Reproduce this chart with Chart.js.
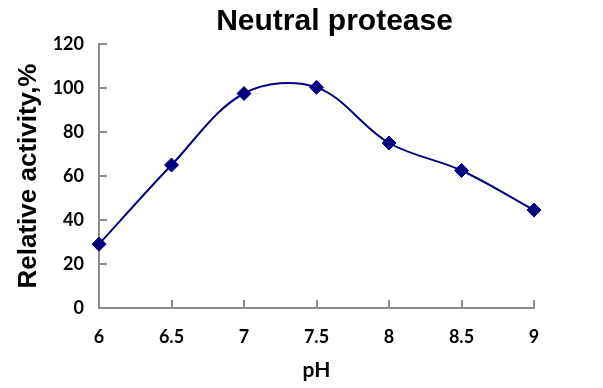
<!DOCTYPE html>
<html><head><meta charset="utf-8">
<script src="https://cdn.jsdelivr.net/npm/chart.js@4/dist/chart.umd.min.js"></script>
<style>html,body{margin:0;padding:0;background:#fff}#w{width:603px;height:388px}</style>
</head><body><div id="w"><canvas id="c"></canvas></div>
<script>
const phValues = [6, 6.5, 7, 7.5, 8, 8.5, 9];
const activity = [29, 65, 97.5, 100.3, 75, 62.5, 44.5];
const yTickValues = [0, 20, 40, 60, 80, 100, 120];
const chartTitle = "Neutral protease";
const xTitle = "pH";
const yTitle = "Relative activity,%";

const axisColor = '#8c8c8c';
const innerTicks = {
  id: 'innerTicks',
  beforeDatasetsDraw(chart) {
    const ctx = chart.ctx, a = chart.chartArea;
    const xs = chart.scales.x, ys = chart.scales.y;
    ctx.save();
    ctx.strokeStyle = axisColor; ctx.lineWidth = 2;
    ctx.beginPath();
    xs.ticks.forEach(t => { const px = Math.round(xs.getPixelForValue(t.value)); ctx.moveTo(px, a.bottom); ctx.lineTo(px, a.bottom - 8); });
    ys.ticks.forEach(t => { const py = Math.round(ys.getPixelForValue(t.value)); ctx.moveTo(a.left, py); ctx.lineTo(a.left + 8, py); });
    ctx.stroke();
    ctx.restore();
  }
};
const topTitle = {
  id: 'topTitle',
  afterDraw(chart) {
    const ctx = chart.ctx, a = chart.chartArea;
    ctx.save();
    ctx.fillStyle = '#000';
    ctx.font = 'bold 30px "Liberation Sans", Arial, sans-serif';
    ctx.textAlign = 'center';
    ctx.textBaseline = 'alphabetic';
    ctx.fillText(chartTitle, (a.left + a.right) / 2 + 18, 30);
    ctx.restore();
  }
};

new Chart(document.getElementById('c'), {
  type: 'line',
  data: {
    datasets: [{
      data: phValues.map((x, i) => ({x, y: activity[i]})),
      borderColor: '#000080', backgroundColor: '#000080',
      borderWidth: 2, tension: 0.35, clip: false,
      pointStyle: 'rectRot', pointRadius: 7, pointHoverRadius: 7, pointBorderWidth: 1
    }]
  },
  options: {
    responsive: true, maintainAspectRatio: false, animation: false,
    layout: { padding: { left: 0, right: 69, top: 44, bottom: 0 } },
    plugins: { legend: { display: false }, tooltip: { enabled: false }, title: { display: false } },
    scales: {
      x: {
        type: 'linear', min: 6, max: 9,
        ticks: { stepSize: 0.5, color: '#000', padding: 18,
          callback: v => String(v),
          font: { family: 'Lato', size: 18, weight: 'bold' } },
        grid: { display: false, drawTicks: false },
        border: { color: axisColor, width: 2 },
        title: { display: true, text: xTitle, color: '#000',
          font: { family: 'Lato', size: 21, weight: 'bold' }, padding: { top: 0, bottom: 5 } },
        afterFit(s) { s.height = 80; }
      },
      y: {
        min: 0, max: 120,
        afterBuildTicks(s) { s.ticks = yTickValues.map(v => ({value: v})); },
        ticks: { color: '#000', padding: 15,
          font: { family: 'Lato', size: 18, weight: 'bold' } },
        grid: { display: false, drawTicks: false },
        border: { color: axisColor, width: 2 },
        title: { display: true, text: yTitle, color: '#000',
          font: { family: 'Liberation Sans', size: 26, weight: 'bold' }, padding: { top: 13, bottom: 0 } },
        afterFit(s) { s.width = 99; }
      }
    }
  },
  plugins: [innerTicks, topTitle]
});
</script></body></html>
